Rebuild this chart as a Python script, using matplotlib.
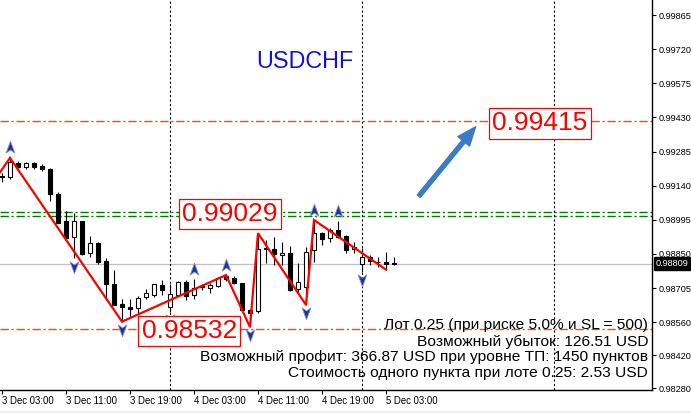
import matplotlib
matplotlib.use("Agg")
import matplotlib.pyplot as plt
from matplotlib.path import Path
from matplotlib import transforms
from matplotlib.patches import Rectangle

plt.rcParams['font.family'] = ['Liberation Sans', 'DejaVu Sans']

# ---------------- data ----------------
symbol = "USDCHF"
opens = [0.99178, 0.99175, 0.99238, 0.99218, 0.99235, 0.99225, 0.99211, 0.99103, 0.98990, 0.98923,
         0.98990, 0.98852, 0.98895, 0.98820, 0.98722, 0.98637, 0.98626, 0.98619, 0.98666, 0.98674,
         0.98717, 0.98623, 0.98675, 0.98729, 0.98674, 0.98708, 0.98704, 0.98715, 0.98756, 0.98749,
         0.98725, 0.98612, 0.98609, 0.98871, 0.98871, 0.98845, 0.98852, 0.98700, 0.98708, 0.98867,
         0.98938, 0.98916, 0.98952, 0.98926, 0.98871, 0.98807, 0.98835, 0.98817, 0.98817, 0.98810]
highs = [0.99194, 0.99258, 0.99246, 0.99242, 0.99239, 0.99232, 0.99215, 0.99112, 0.99032, 0.99022,
         0.98990, 0.98927, 0.98899, 0.98831, 0.98781, 0.98657, 0.98657, 0.98671, 0.98700, 0.98722,
         0.98739, 0.98722, 0.98736, 0.98739, 0.98742, 0.98722, 0.98728, 0.98753, 0.98760, 0.98756,
         0.98728, 0.98616, 0.98938, 0.98909, 0.98921, 0.98902, 0.98884, 0.98810, 0.98878, 0.98994,
         0.98943, 0.98959, 0.98990, 0.98930, 0.98902, 0.98874, 0.98845, 0.98838, 0.98859, 0.98838]
lows = [0.99156, 0.99167, 0.99214, 0.99209, 0.99212, 0.99204, 0.99076, 0.98980, 0.98912, 0.98831,
        0.98845, 0.98835, 0.98807, 0.98654, 0.98633, 0.98562, 0.98583, 0.98598, 0.98657, 0.98666,
        0.98674, 0.98604, 0.98671, 0.98654, 0.98657, 0.98697, 0.98685, 0.98711, 0.98735, 0.98722,
        0.98609, 0.98539, 0.98599, 0.98811, 0.98803, 0.98803, 0.98692, 0.98689, 0.98633, 0.98817,
        0.98888, 0.98902, 0.98916, 0.98855, 0.98852, 0.98774, 0.98803, 0.98796, 0.98783, 0.98803]
closes = [0.99180, 0.99242, 0.99218, 0.99235, 0.99221, 0.99209, 0.99103, 0.98982, 0.98916, 0.98990,
          0.98848, 0.98895, 0.98817, 0.98721, 0.98634, 0.98623, 0.98617, 0.98661, 0.98685, 0.98722,
          0.98697, 0.98680, 0.98729, 0.98672, 0.98704, 0.98715, 0.98717, 0.98746, 0.98742, 0.98725,
          0.98612, 0.98598, 0.98870, 0.98875, 0.98850, 0.98852, 0.98697, 0.98732, 0.98859, 0.98938,
          0.98913, 0.98952, 0.98923, 0.98867, 0.98881, 0.98838, 0.98820, 0.98814, 0.98806, 0.98809]

time_labels = ["3 Dec 03:00", "3 Dec 11:00", "3 Dec 19:00", "4 Dec 03:00",
               "4 Dec 11:00", "4 Dec 19:00", "5 Dec 03:00"]
time_label_idx = [0, 8, 16, 24, 32, 40, 48]
day_separators = [21, 45, 69]

price_ticks = [0.98280, 0.98420, 0.98560, 0.98705, 0.98850, 0.98995, 0.99140,
               0.99285, 0.99430, 0.99575, 0.99720, 0.99865]
bid = 0.98809
tp_level = 0.99415
sl_level = 0.98532
green_levels = [0.99029, 0.99012]

zigzag_idx = [-1, 1, 15, 28, 31, 32, 38, 39, 48]
zigzag_price = [0.99160, 0.99258, 0.98562, 0.98760, 0.98539, 0.98938, 0.98633, 0.98994, 0.98783]

fractal_up = [1, 24, 28, 39, 42]
fractal_down = [9, 15, 21, 31, 38, 45]

label_texts = ["0.99415", "0.99029", "0.98532"]
label_prices = [0.99415, 0.99029, 0.98532]
label_idx = [67.25, 28.5, 23.4]

arrow_start = (52.1, 0.99095)
arrow_end = (59.2, 0.99390)

info_lines = ["Лот 0.25 (при риске 5.0% и SL = 500)",
              "Возможный убыток: 126.51 USD",
              "Возможный профит: 366.87 USD при уровне ТП: 1450 пунктов",
              "Стоимость одного пункта при лоте 0.25: 2.53 USD"]

# ---------------- figure ----------------
W, H = 691, 413
fig = plt.figure(figsize=(W / 100, H / 100), dpi=100)
fig.patch.set_facecolor('white')
fig.patches.append(Rectangle((0, 0), 1, 2 / H, transform=fig.transFigure,
                             facecolor='#f0f0f0', edgecolor='none'))
ax = fig.add_axes([0, 23 / H, 652 / W, 390 / H])
ax.set_xlim(-0.25, 81.25)
ax.set_ylim(0.982715, 0.99929)

for s in ['top', 'left']:
    ax.spines[s].set_visible(False)
for s in ['right', 'bottom']:
    ax.spines[s].set_color('black')
    ax.spines[s].set_linewidth(1.0)

# horizontal levels
ax.axhline(bid, color='#c0c0c0', lw=0.9, zorder=1)
for lv in (tp_level, sl_level):
    ax.axhline(lv, color='#ff4500', lw=1.0, dashes=(6, 2, 1.5, 2), zorder=1)
for lv in green_levels:
    ax.axhline(lv, color='#007a00', lw=1.0, dashes=(6, 2, 1.5, 2), zorder=1)

# day separators
for d in day_separators:
    ax.axvline(d, color='black', lw=0.8, dashes=(2, 2), zorder=1)

# candles
xs = list(range(len(opens)))
ax.vlines(xs, lows, highs, color='black', lw=0.8, zorder=2)
for i in xs:
    o, c = opens[i], closes[i]
    bull = c >= o
    ax.bar(i, abs(c - o), bottom=min(o, c), width=0.62,
           color='white' if bull else 'black', edgecolor='black', lw=0.8, zorder=3)

# zigzag
ax.plot(zigzag_idx, zigzag_price, color='red', lw=1.6, zorder=4, solid_joinstyle='miter')

# fractal arrows
up_path = Path([(0, 1), (0.7, -0.9), (0, -0.4), (-0.7, -0.9), (0, 1)],
               [Path.MOVETO, Path.LINETO, Path.LINETO, Path.LINETO, Path.CLOSEPOLY])
down_path = Path([(0, -1), (0.7, 0.9), (0, 0.4), (-0.7, 0.9), (0, -1)],
                 [Path.MOVETO, Path.LINETO, Path.LINETO, Path.LINETO, Path.CLOSEPOLY])
tr_up = transforms.offset_copy(ax.transData, fig=fig, y=7.5, units='points')
tr_dn = transforms.offset_copy(ax.transData, fig=fig, y=-6, units='points')
ax.plot(fractal_up, [highs[i] for i in fractal_up], linestyle='none', marker=up_path,
        markersize=9, markerfacecolor='#23308f', markeredgecolor='#7f95dc',
        markeredgewidth=0.6, transform=tr_up, zorder=5)
ax.plot(fractal_down, [lows[i] for i in fractal_down], linestyle='none', marker=down_path,
        markersize=9, markerfacecolor='#23308f', markeredgecolor='#7f95dc',
        markeredgewidth=0.6, transform=tr_dn, zorder=5)

# price labels
for t, p, xi in zip(label_texts, label_prices, label_idx):
    ax.text(xi, p, t, ha='center', va='center_baseline', fontsize=19, color='red',
            bbox=dict(boxstyle='square,pad=0.12', fc='white', ec='red', lw=0.9), zorder=6)

# blue arrow
ax.annotate('', xy=arrow_end, xytext=arrow_start,
            arrowprops=dict(arrowstyle='simple,head_length=0.75,head_width=0.6,tail_width=0.16',
                            color='#3a7cc3', mutation_scale=18, shrinkA=0, shrinkB=0),
            zorder=6)

# symbol title
ax.text(0.468, 0.843, symbol, transform=ax.transAxes, ha='center', va='center',
        fontsize=16.8, color='#1010e0')

# info block
for k, line in enumerate(info_lines):
    ax.text(0.9939, 1 - (324 + 16 * k) / 390, line, transform=ax.transAxes,
            ha='right', va='center_baseline', fontsize=11.15, color='black', zorder=7)

# axes ticks
ax.yaxis.tick_right()
ax.set_yticks(price_ticks)
ax.set_yticklabels([f"{v:.5f}" for v in price_ticks])
ax.tick_params(axis='y', direction='out', length=3, width=0.8, labelsize=6.6, pad=1.5)
ax.set_xticks(time_label_idx)
ax.set_xticklabels(time_labels)
ax.tick_params(axis='x', direction='out', length=3, width=0.8, labelsize=6.9, pad=1.5)
for lbl in ax.get_xticklabels():
    lbl.set_horizontalalignment('left')

# current price tag
ax.annotate(f"{bid:.5f}", xy=(1, bid), xycoords=('axes fraction', 'data'),
            xytext=(2.6, 0), textcoords='offset points', ha='left', va='center',
            color='white', fontsize=6.6,
            bbox=dict(boxstyle='square,pad=0.2', fc='black', ec='black'),
            annotation_clip=False, zorder=8)

fig.savefig('out.png', dpi=100, facecolor='white')
